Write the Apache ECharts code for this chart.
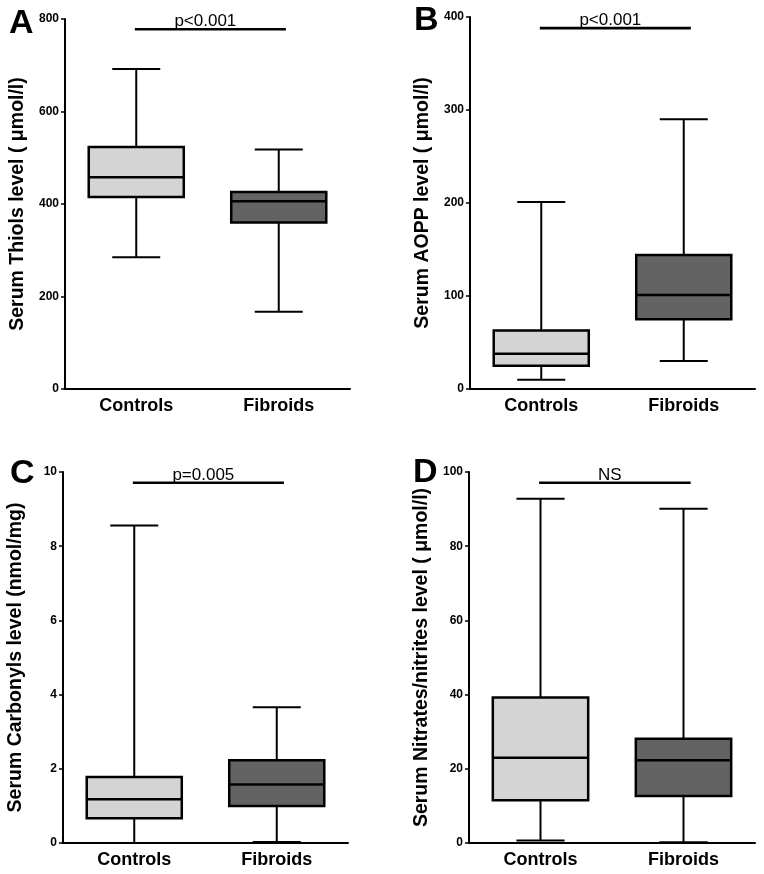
<!DOCTYPE html>
<html>
<head>
<meta charset="utf-8">
<script src="https://cdn.jsdelivr.net/npm/echarts@6/dist/echarts.min.js"></script>
<style>
html,body{margin:0;padding:0;background:#fff;}
#chart{width:764px;height:874px;}
</style>
</head>
<body>
<div id="chart"></div>
<script>
// ---- data ----
const categories = ['Controls', 'Fibroids'];
// [min, Q1, median, Q3, max]
const thiolsControls = [285, 415, 458, 523, 692];
const thiolsFibroids = [167, 360, 406, 426, 518];
const aoppControls = [10, 25, 38, 63, 201];
const aoppFibroids = [30, 75, 101, 144, 290];
const carbonylsControls = [0, 0.67, 1.18, 1.78, 8.56];
const carbonylsFibroids = [0.03, 1.0, 1.58, 2.23, 3.66];
const nitratesControls = [0.7, 11.5, 23.0, 39.2, 92.8];
const nitratesFibroids = [0.2, 12.7, 22.3, 28.1, 90.1];
const panelLetters = ['A', 'B', 'C', 'D'];
const yNames = ['Serum Thiols level ( \u03bcmol/l)', 'Serum AOPP level ( \u03bcmol/l)',
                'Serum Carbonyls level (nmol/mg)', 'Serum Nitrates/nitrites level ( \u03bcmol/l)'];
const yMax = [800, 400, 10, 100];
const yInterval = [200, 100, 2, 20];
const sigLevels = [778, 388, 9.71, 97.1];
const sigTexts = ['p<0.001', 'p<0.001', 'p=0.005', 'NS'];

const panels = [
  [thiolsControls, thiolsFibroids],
  [aoppControls, aoppFibroids],
  [carbonylsControls, carbonylsFibroids],
  [nitratesControls, nitratesFibroids]
];
const boxColors = ['#d4d4d4', '#636363'];

// ---- layout ----
const grids = [
  {left: 65, top: 19, width: 285, height: 370},
  {left: 470, top: 17, width: 285, height: 372},
  {left: 63, top: 472, width: 285, height: 371},
  {left: 469, top: 472, width: 286, height: 371}
];
const letterPos = [[9, 33], [414, 30], [10, 483], [413, 482]];

const FONT = '"Liberation Sans", Arial, Helvetica, sans-serif';

function renderBox(params, api) {
  const x = api.value(0);
  const pMin = api.coord([x, api.value(1)]);
  const pQ1 = api.coord([x, api.value(2)]);
  const pMed = api.coord([x, api.value(3)]);
  const pQ3 = api.coord([x, api.value(4)]);
  const pMax = api.coord([x, api.value(5)]);
  const band = api.size([1, 0])[0];
  const bw = band * 0.667, cw = band * 0.337;
  const cx = pMed[0];
  const ls = {stroke: '#000', lineWidth: 2, fill: null};
  const fill = boxColors[x];
  return {
    type: 'group',
    children: [
      {type: 'line', shape: {x1: cx, y1: pMax[1], x2: cx, y2: pQ3[1]}, style: ls},
      {type: 'line', shape: {x1: cx, y1: pQ1[1], x2: cx, y2: pMin[1]}, style: ls},
      {type: 'line', shape: {x1: cx - cw / 2, y1: pMax[1], x2: cx + cw / 2, y2: pMax[1]}, style: ls},
      {type: 'line', shape: {x1: cx - cw / 2, y1: pMin[1], x2: cx + cw / 2, y2: pMin[1]}, style: ls},
      {type: 'rect', shape: {x: cx - bw / 2, y: pQ3[1], width: bw, height: pQ1[1] - pQ3[1]},
        style: {fill: fill, stroke: '#000', lineWidth: 2.5}},
      {type: 'line', shape: {x1: cx - bw / 2, y1: pMed[1], x2: cx + bw / 2, y2: pMed[1]},
        style: {stroke: '#000', lineWidth: 2.5}}
    ]
  };
}

function makeSigRender(text) {
  return function (params, api) {
    const band = api.size([1, 0])[0];
    const p0 = api.coord([0, api.value(0)]);
    const p1 = api.coord([1, api.value(0)]);
    const x0 = p0[0] - band * 0.01;
    const x1 = p1[0] + band * 0.05;
    return {
      type: 'group',
      children: [
        {type: 'line', shape: {x1: x0, y1: p0[1], x2: x1, y2: p0[1]}, style: {stroke: '#000', lineWidth: 2.6}},
        {type: 'text', style: {text: text, x: (x0 + x1) / 2 - 5, y: p0[1] + 1, textAlign: 'center',
          textVerticalAlign: 'bottom', font: '17px ' + FONT, fill: '#000'}}
      ]
    };
  };
}

const xAxis = [], yAxis = [], series = [];
for (let i = 0; i < 4; i++) {
  xAxis.push({
    type: 'category', gridIndex: i, data: categories, boundaryGap: true,
    axisLine: {lineStyle: {color: '#000', width: 2}},
    axisTick: {show: false},
    axisLabel: {color: '#000', fontFamily: FONT, fontWeight: 'bold', fontSize: 18, margin: 8}
  });
  yAxis.push({
    type: 'value', gridIndex: i, min: 0, max: yMax[i], interval: yInterval[i],
    splitLine: {show: false},
    axisLine: {show: true, lineStyle: {color: '#000', width: 2}},
    axisTick: {show: true, length: 4, lineStyle: {color: '#000', width: 1.5}},
    axisLabel: {color: '#000', fontFamily: FONT, fontWeight: 'bold', fontSize: 12, margin: 6},
    name: yNames[i], nameLocation: 'middle', nameGap: 37,
    nameTextStyle: {color: '#000', fontFamily: FONT, fontWeight: 'bold', fontSize: 19.5}
  });
  const data = panels[i].map((v, k) => [k].concat(v));
  series.push({
    type: 'custom', xAxisIndex: i, yAxisIndex: i, renderItem: renderBox,
    encode: {x: 0, y: [1, 2, 3, 4, 5]}, data: data, silent: true, clip: false
  });
  series.push({
    type: 'custom', xAxisIndex: i, yAxisIndex: i, renderItem: makeSigRender(sigTexts[i]),
    encode: {y: 0}, data: [[sigLevels[i]]], silent: true, clip: false
  });
}

const graphic = panelLetters.map((t, i) => ({
  type: 'text', left: letterPos[i][0], top: letterPos[i][1] - 26,
  style: {text: t, font: 'bold 34px ' + FONT, fill: '#000'}
}));

const chart = echarts.init(document.getElementById('chart'), null, {renderer: 'canvas'});
chart.setOption({
  animation: false,
  backgroundColor: '#fff',
  grid: grids,
  xAxis: xAxis,
  yAxis: yAxis,
  series: series,
  graphic: graphic
});
</script>
</body>
</html>
